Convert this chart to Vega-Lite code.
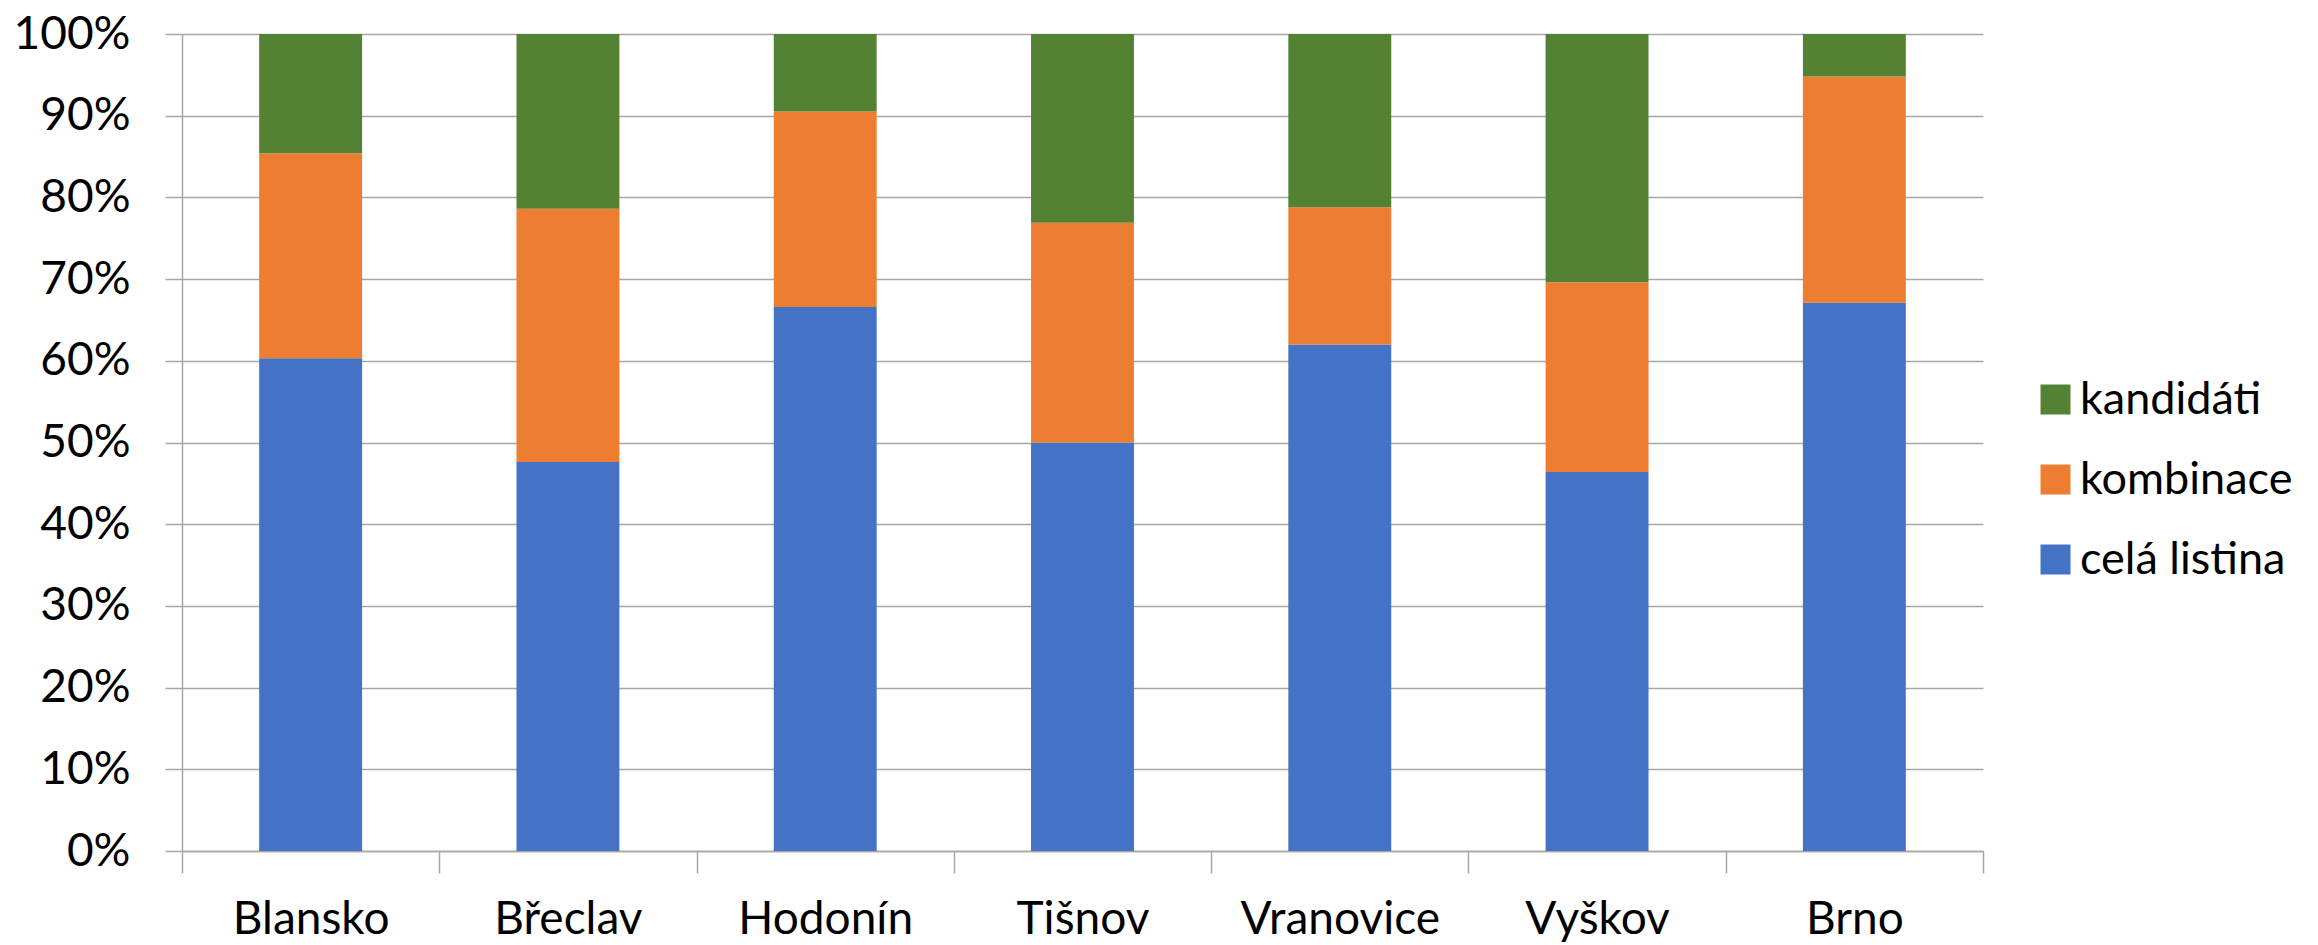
{
  "$schema": "https://vega.github.io/schema/vega-lite/v6.json",
  "width": 1801,
  "height": 817,
  "autosize": {"type": "none"},
  "padding": {"left": 182, "top": 34, "right": 335, "bottom": 94},
  "background": "white",
  "config": {
    "view": {"stroke": null},
    "font": "Lato",
    "axis": {"labelFont": "Lato", "labelColor": "#000000"},
    "legend": {"labelFont": "Lato"}
  },
  "data": {
    "values": [
      {"mesto": "Blansko", "typ": "celá listina", "podil": 60.3},
      {"mesto": "Blansko", "typ": "kombinace", "podil": 25.1},
      {"mesto": "Blansko", "typ": "kandidáti", "podil": 14.6},
      {"mesto": "Břeclav", "typ": "celá listina", "podil": 47.6},
      {"mesto": "Břeclav", "typ": "kombinace", "podil": 31.0},
      {"mesto": "Břeclav", "typ": "kandidáti", "podil": 21.4},
      {"mesto": "Hodonín", "typ": "celá listina", "podil": 66.6},
      {"mesto": "Hodonín", "typ": "kombinace", "podil": 23.9},
      {"mesto": "Hodonín", "typ": "kandidáti", "podil": 9.5},
      {"mesto": "Tišnov", "typ": "celá listina", "podil": 50.0},
      {"mesto": "Tišnov", "typ": "kombinace", "podil": 26.9},
      {"mesto": "Tišnov", "typ": "kandidáti", "podil": 23.1},
      {"mesto": "Vranovice", "typ": "celá listina", "podil": 62.0},
      {"mesto": "Vranovice", "typ": "kombinace", "podil": 16.8},
      {"mesto": "Vranovice", "typ": "kandidáti", "podil": 21.2},
      {"mesto": "Vyškov", "typ": "celá listina", "podil": 46.4},
      {"mesto": "Vyškov", "typ": "kombinace", "podil": 23.2},
      {"mesto": "Vyškov", "typ": "kandidáti", "podil": 30.4},
      {"mesto": "Brno", "typ": "celá listina", "podil": 67.1},
      {"mesto": "Brno", "typ": "kombinace", "podil": 27.7},
      {"mesto": "Brno", "typ": "kandidáti", "podil": 5.2}
    ]
  },
  "transform": [
    {"calculate": "indexof(['celá listina','kombinace','kandidáti'], datum.typ)", "as": "poradi"}
  ],
  "mark": {"type": "bar", "width": {"band": 0.4}},
  "encoding": {
    "x": {
      "field": "mesto",
      "type": "nominal",
      "sort": null,
      "scale": {"paddingInner": 0, "paddingOuter": 0},
      "axis": {
        "title": null,
        "labelAngle": 0,
        "labelFontSize": 46,
        "labelPadding": 24,
        "labelLimit": 500,
        "tickBand": "extent",
        "tickSize": 22,
        "tickColor": "#a6a6a6",
        "tickWidth": 1.5,
        "domainColor": "#a6a6a6",
        "domainWidth": 1.5,
        "grid": false
      }
    },
    "y": {
      "field": "podil",
      "type": "quantitative",
      "stack": "normalize",
      "scale": {"domain": [0, 1]},
      "axis": {
        "title": null,
        "format": ".0%",
        "values": [0, 0.1, 0.2, 0.3, 0.4, 0.5, 0.6, 0.7, 0.8, 0.9, 1],
        "labelOverlap": false,
        "labelFontSize": 46,
        "labelPadding": 35,
        "tickSize": 17,
        "tickColor": "#a6a6a6",
        "tickWidth": 1.5,
        "domainColor": "#a6a6a6",
        "domainWidth": 1.5,
        "grid": true,
        "gridColor": "#a6a6a6",
        "gridWidth": 1.5
      }
    },
    "color": {
      "field": "typ",
      "type": "nominal",
      "scale": {
        "domain": ["kandidáti", "kombinace", "celá listina"],
        "range": ["#548235", "#ED7D31", "#4472C4"]
      },
      "legend": {
        "title": null,
        "orient": "none",
        "legendX": 1851,
        "legendY": 343,
        "symbolType": "square",
        "symbolSize": 900,
        "symbolStrokeWidth": 0,
        "labelFontSize": 45,
        "labelColor": "#000000",
        "labelOffset": 2,
        "rowPadding": 34,
        "labelLimit": 400
      }
    },
    "order": {"field": "poradi", "type": "quantitative", "sort": "ascending"}
  }
}
